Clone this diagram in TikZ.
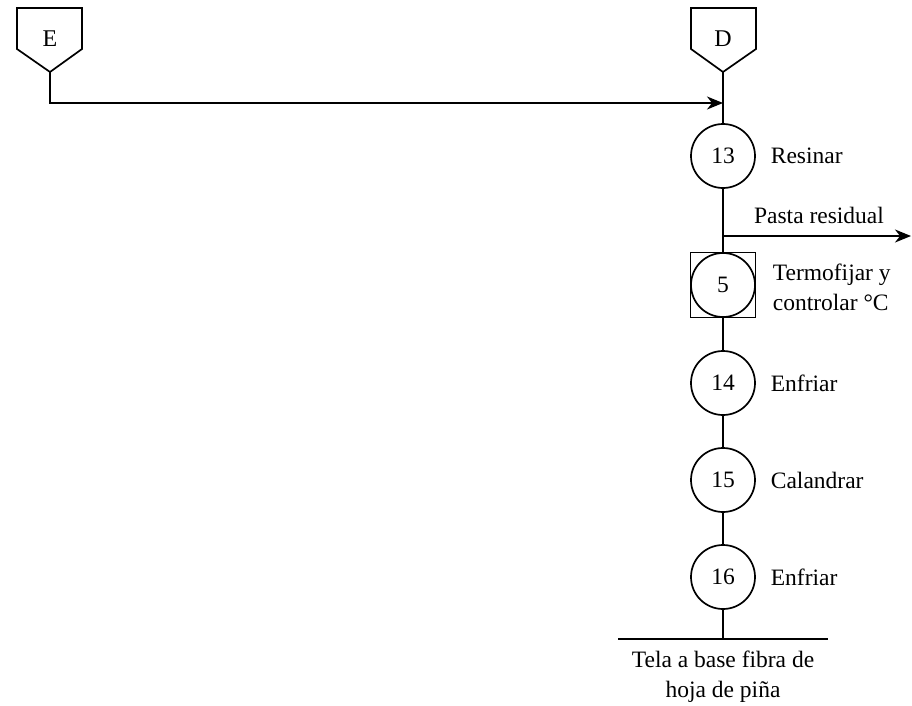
\documentclass[tikz,border=0pt]{standalone}
\usepackage{fontspec}
\setmainfont{Liberation Serif}
\usetikzlibrary{arrows.meta}
\begin{document}
\begin{tikzpicture}[x=1pt,y=-1pt,line width=1.7pt,
  txt/.style={font=\fontsize{23.5}{30}\selectfont},
  op/.style={circle,draw,minimum size=64pt,inner sep=0pt,txt},
  insp/.style={rectangle,draw,minimum size=65pt,inner sep=0pt},
  lbl/.style={anchor=west,align=left,inner sep=0pt,txt},
  tag/.style={font=\fontsize{24}{28}\selectfont},
  flow/.style={-{Stealth[length=16pt,width=13pt,inset=5pt]}}]
\useasboundingbox (0,0) rectangle (912,706);

% inputs (pentagon tags)
\draw (17,8) -- (82,8) -- (82,49) -- (50,72) -- (17,49) -- cycle;
\node[tag] (E) at (50,39) {E};
\coordinate (eTip) at (50,72);
\draw (691,8) -- (756,8) -- (756,49) -- (723,72) -- (691,49) -- cycle;
\node[tag] (D) at (723,39) {D};
\coordinate (dTip) at (723,72);
\coordinate (merge) at (723,103);

% operations
\node[op] (n13) at (723,156) {13};
\node[insp] (n5box) at (723,285) {};
\node[op] (n5) at (723,285) {5};
\node[op] (n14) at (723,383) {14};
\node[op] (n15) at (723,480) {15};
\node[op] (n16) at (723,577) {16};

% labels
\node[lbl] (l13) at (770,156) {Resinar};
\node[lbl] (l5) at (772,287) {Termofijar y\\controlar °C};
\node[lbl] (l14) at (770,383) {Enfriar};
\node[lbl] (l15) at (770,480) {Calandrar};
\node[lbl] (l16) at (770,577) {Enfriar};

% main line
\draw[flow] (eTip) |- (merge);
\draw (dTip) -- (n13);
\draw (n13) -- (n5box);
\draw (n5) -- (n14);
\draw (n14) -- (n15);
\draw (n15) -- (n16);

% residual paste output
\coordinate (split) at (723,236);
\coordinate (pastaEnd) at (911,236);
\draw[flow] (split) -- (pastaEnd);
\node[txt,inner sep=0pt] (pasta) at (819,215) {Pasta residual};

% final product
\coordinate (endL) at (618,639);
\coordinate (endR) at (828,639);
\coordinate (endM) at (723,639);
\draw (n16) -- (endM);
\draw (endL) -- (endR);
\node[txt,align=center,inner sep=0pt,anchor=north] (prod) at (723,650) {Tela a base fibra de\\hoja de piña};
\end{tikzpicture}
\end{document}
